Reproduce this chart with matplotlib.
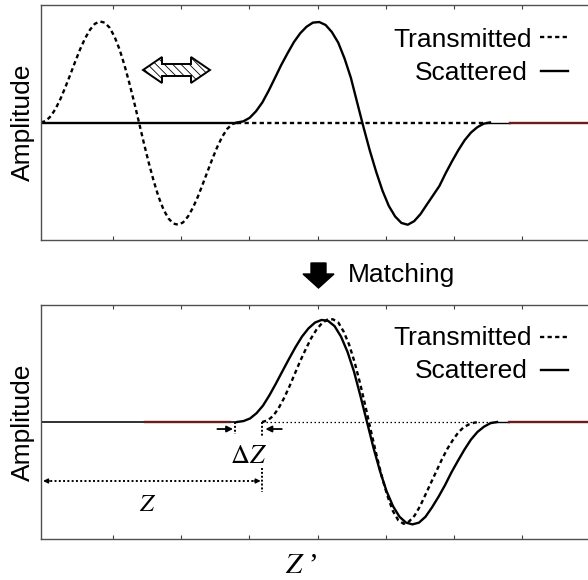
import matplotlib
matplotlib.use("Agg")
import matplotlib.pyplot as plt
from matplotlib.patches import Polygon, FancyArrow

plt.rcParams["font.family"] = ["Liberation Sans", "DejaVu Sans"]
plt.rcParams["mathtext.fontset"] = "stix"
plt.rcParams["hatch.linewidth"] = 0.6
plt.rcParams["lines.solid_joinstyle"] = "round"
plt.rcParams["lines.dash_joinstyle"] = "round"

# --- data: Z' position (tick units) and amplitude ---
top_tx_x = [-0.056, 0.016, 0.088, 0.160, 0.231, 0.303, 0.375, 0.447, 0.519, 0.591,
            0.663, 0.734, 0.806, 0.878, 0.950, 1.022, 1.094, 1.165, 1.237, 1.309,
            1.381, 1.453, 1.525, 1.597, 1.668, 1.740, 1.812, 1.884, 1.956, 2.028,
            2.099, 2.171, 2.243, 2.315, 2.387, 2.459, 2.531, 2.602, 2.674, 2.746, 2.818]
top_tx_y = [0.0, 0.014, 0.054, 0.119, 0.203, 0.303, 0.410, 0.520, 0.625, 0.717,
            0.790, 0.840, 0.860, 0.850, 0.807, 0.731, 0.625, 0.494, 0.341, 0.175,
            0.0, -0.177, -0.345, -0.499, -0.633, -0.740, -0.816, -0.860, -0.870, -0.850,
            -0.800, -0.726, -0.633, -0.526, -0.415, -0.306, -0.205, -0.120, -0.055, -0.014, 0.0]

top_sc_x = [2.818, 2.911, 3.004, 3.096, 3.189, 3.282, 3.375, 3.467, 3.560, 3.653,
            3.746, 3.838, 3.931, 4.024, 4.117, 4.209, 4.302, 4.395, 4.488, 4.580,
            4.673, 4.766, 4.859, 4.951, 5.044, 5.137, 5.229, 5.322, 5.415, 5.508,
            5.600, 5.693, 5.786, 5.879, 5.971, 6.064, 6.157, 6.250, 6.342, 6.435, 6.528]
top_sc_y = [0.0, 0.01, 0.04, 0.095, 0.17, 0.27, 0.38, 0.49, 0.59, 0.685,
            0.76, 0.815, 0.85, 0.855, 0.83, 0.77, 0.68, 0.545, 0.38, 0.17,
            -0.04, -0.24, -0.42, -0.58, -0.71, -0.80, -0.855, -0.87, -0.84, -0.78,
            -0.70, -0.62, -0.54, -0.43, -0.33, -0.235, -0.15, -0.085, -0.04, -0.01, 0.0]

bot_tx_x = [3.185, 3.265, 3.345, 3.425, 3.504, 3.584, 3.664, 3.744, 3.824, 3.904,
            3.984, 4.064, 4.144, 4.224, 4.304, 4.384, 4.463, 4.543, 4.623, 4.703,
            4.783, 4.863, 4.943, 5.023, 5.103, 5.183, 5.262, 5.342, 5.422, 5.502,
            5.582, 5.662, 5.742, 5.822, 5.902, 5.982, 6.062, 6.141, 6.221, 6.301, 6.381]
bot_tx_y = [0.0, 0.013, 0.05, 0.115, 0.20, 0.30, 0.41, 0.52, 0.62, 0.715,
            0.79, 0.845, 0.875, 0.878, 0.85, 0.77, 0.66, 0.51, 0.33, 0.13,
            -0.08, -0.28, -0.47, -0.63, -0.76, -0.84, -0.87, -0.85, -0.80, -0.72,
            -0.62, -0.52, -0.42, -0.32, -0.23, -0.155, -0.09, -0.045, -0.02, -0.005, 0.0]

bot_sc_x = [2.818, 2.913, 3.009, 3.104, 3.199, 3.295, 3.390, 3.485, 3.581, 3.676,
            3.771, 3.866, 3.962, 4.057, 4.152, 4.248, 4.343, 4.438, 4.534, 4.629,
            4.724, 4.819, 4.915, 5.010, 5.106, 5.201, 5.296, 5.391, 5.487, 5.582,
            5.677, 5.772, 5.868, 5.963, 6.059, 6.154, 6.249, 6.344, 6.440, 6.535, 6.631]
bot_sc_y = [0.0, 0.008, 0.03, 0.075, 0.14, 0.23, 0.33, 0.435, 0.54, 0.64,
            0.73, 0.80, 0.85, 0.872, 0.865, 0.82, 0.73, 0.60, 0.43, 0.22,
            0.0, -0.22, -0.42, -0.59, -0.72, -0.81, -0.86, -0.875, -0.86, -0.81,
            -0.73, -0.64, -0.54, -0.43, -0.33, -0.235, -0.15, -0.085, -0.04, -0.01, 0.0]

# flat (zero amplitude) stretches
top_sc_lead = [-0.056, 2.818]
top_tx_tail = [2.818, 6.528]
top_tail = [6.528, 6.82]
top_red = [6.82, 8.0]
bot_sc_lead = [-0.056, 2.818]
bot_red_left = [1.47, 2.72]
bot_tx_tail = [3.185, 6.53]
bot_tail = [6.53, 6.80]
bot_red = [6.80, 8.0]

# offsets marked in the lower panel
dz_start = 2.79
z_end = 3.185
z_start = -0.026

legend_labels = ["Transmitted", "Scattered"]

DOT = (0, (1.8, 1.4))
RED = "#6b1d1d"
LW = 1.7

fig = plt.figure(figsize=(5.88, 5.80), dpi=100)
ax1 = fig.add_axes([41 / 588, 1 - 240 / 580, 549.4 / 588, 235 / 580])
ax2 = fig.add_axes([41 / 588, 1 - 539 / 580, 549.4 / 588, 234 / 580])

for ax in (ax1, ax2):
    ax.set_xlim(-0.056, 8.0)
    ax.set_ylim(-1, 1)
    ax.set_xticks(range(1, 8))
    ax.set_yticks([])
    ax.tick_params(axis="x", direction="in", length=3, width=0.8, top=True,
                   labelbottom=False, color="#404040")
    for s in ax.spines.values():
        s.set_color("#505050")
        s.set_linewidth(1.0)
    ax.set_ylabel("Amplitude", fontsize=19)
    ax.yaxis.set_label_coords(-6 / 549.4, 0.5)

    # legend-like labels, text left of the line sample
    ys = (0.864, 0.719) if ax is ax1 else (0.863, 0.722)
    yb = (0.821, 0.681) if ax is ax1 else (0.829, 0.688)
    ax.text(0.8937, yb[0], legend_labels[0], transform=ax.transAxes, ha="right",
            va="baseline", fontsize=19)
    ax.text(0.886, yb[1], legend_labels[1], transform=ax.transAxes, ha="right",
            va="baseline", fontsize=19)
    ax.plot([0.908, 0.959], [ys[0]] * 2, transform=ax.transAxes, color="k", lw=LW, ls=DOT)
    ax.plot([0.910, 0.959], [ys[1]] * 2, transform=ax.transAxes, color="k", lw=LW)

# top panel
ax1.plot(top_sc_lead, [0, 0], color="k", lw=LW)
ax1.plot(top_tx_x, top_tx_y, color="k", lw=LW, ls=DOT)
ax1.plot(top_tx_tail, [0, 0], color="k", lw=LW, ls=DOT)
ax1.plot(top_sc_x, top_sc_y, color="k", lw=LW)
ax1.plot(top_tail, [0, 0], color="k", lw=1.0)
ax1.plot(top_red, [0, 0], color=RED, lw=LW)

# bottom panel
ax2.plot(bot_sc_lead, [0, 0], color="#202020", lw=1.3)
ax2.plot(bot_red_left, [0, 0], color=RED, lw=LW)
ax2.plot(bot_tx_tail, [0, 0], color="k", lw=0.9, ls=(0, (1.2, 2.0)))
ax2.plot(bot_tail, [0, 0], color="k", lw=1.0)
ax2.plot(bot_red, [0, 0], color=RED, lw=LW)
ax2.plot(bot_tx_x, bot_tx_y, color="k", lw=LW, ls=DOT)
ax2.plot(bot_sc_x, bot_sc_y, color="k", lw=LW)

# delta Z markers
ax2.plot([dz_start, dz_start], [0, -0.10], color="k", lw=1.4, ls=(0, (1, 1)))
ax2.plot([z_end, z_end], [0, -0.12], color="k", lw=1.4, ls=(0, (1, 1)))
arw = dict(arrowstyle="-|>", color="k", lw=1.3, mutation_scale=9, shrinkA=0, shrinkB=0)
ax2.annotate("", xy=(dz_start - 0.03, -0.06), xytext=(dz_start - 0.26, -0.06), arrowprops=arw)
ax2.annotate("", xy=(z_end + 0.05, -0.06), xytext=(z_end + 0.29, -0.06), arrowprops=arw)
ax2.text((dz_start + z_end) / 2, -0.29, r"$\Delta Z$", ha="center", va="center", fontsize=19)

# Z extent
ax2.plot([z_start + 0.05, z_end - 0.05], [-0.504, -0.504], color="k", lw=1.4, ls=(0, (1, 1.2)))
ax2.plot([z_end, z_end], [-0.39, -0.60], color="k", lw=1.4, ls=(0, (1, 1)))
arw2 = dict(arrowstyle="-|>", color="k", lw=1.0, mutation_scale=7, shrinkA=0, shrinkB=0)
ax2.annotate("", xy=(z_start, -0.504), xytext=(z_start + 0.1, -0.504), arrowprops=arw2)
ax2.annotate("", xy=(z_end - 0.02, -0.504), xytext=(z_end - 0.12, -0.504), arrowprops=arw2)
ax2.text(1.513, -0.70, r"$Z$", ha="center", va="center", fontsize=18)

# x label of the lower panel
fig.text(285 / 588, 7 / 580, r"$Z$ ’", ha="left", va="baseline", fontsize=21,
         family=["Liberation Serif", "DejaVu Serif"])

# hatched double arrow in the upper panel (inches)
x0, x1, yc = 1.43, 2.10, 5.10
hl, hw, sw = 0.19, 0.13, 0.06
pts = [(x0, yc), (x0 + hl, yc + hw), (x0 + hl, yc + sw), (x1 - hl, yc + sw),
       (x1 - hl, yc + hw), (x1, yc), (x1 - hl, yc - hw), (x1 - hl, yc - sw),
       (x0 + hl, yc - sw), (x0 + hl, yc - hw)]
fig.add_artist(Polygon(pts, closed=True, facecolor="white", edgecolor="k", lw=1.4,
                       hatch="\\\\\\\\", transform=fig.dpi_scale_trans))

# "Matching" arrow
fig.add_artist(FancyArrow(3.185, 3.17, 0, -0.25, width=0.15, head_width=0.31, head_length=0.14,
                          length_includes_head=True, color="k", transform=fig.dpi_scale_trans))
fig.text(348 / 588, 1 - 282 / 580, "Matching", ha="left", va="baseline", fontsize=19)

fig.savefig("out.png", dpi=100)
